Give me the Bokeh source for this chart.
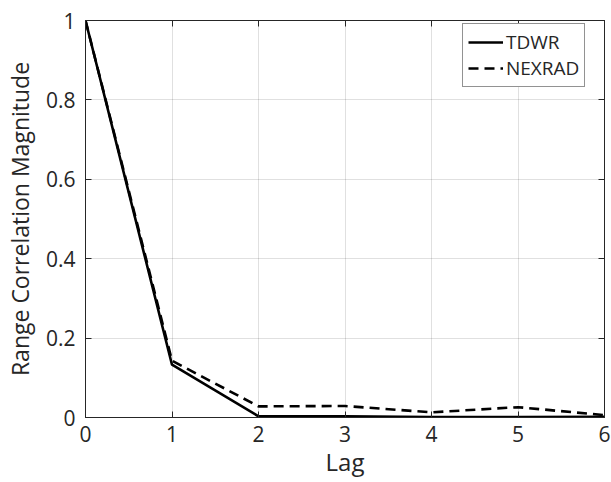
from bokeh.plotting import figure
from bokeh.models import FixedTicker, LinearAxis, Legend, LegendItem, Range1d, CustomJSTickFormatter
from bokeh.embed import file_html
from bokeh.resources import INLINE

lags = [0, 1, 2, 3, 4, 5, 6]
tdwr = [1.0, 0.133, 0.003, 0.003, 0.001, 0.001, 0.002]
nexrad = [1.0, 0.143, 0.028, 0.029, 0.013, 0.026, 0.006]
x_ticks = [0, 1, 2, 3, 4, 5, 6]
y_ticks = [0, 0.2, 0.4, 0.6, 0.8, 1]
y_tick_labels = ["0", "0.2", "0.4", "0.6", "0.8", "1"]

FONT = "Open Sans"
TXT = "#262626"

p = figure(width=611, height=482, output_backend="svg", toolbar_location=None,
           x_range=Range1d(0, 6), y_range=Range1d(0, 1),
           min_border_left=85, min_border_right=7, min_border_top=20, min_border_bottom=65)
p.outline_line_color = "#262626"
p.outline_line_width = 1
p.background_fill_color = "white"
p.border_fill_color = "white"

p.xgrid.grid_line_color = "#000000"
p.xgrid.grid_line_alpha = 0.12
p.ygrid.grid_line_color = "#000000"
p.ygrid.grid_line_alpha = 0.12

xa = p.xaxis[0]
ya = p.yaxis[0]
for ax in (xa, ya):
    ax.major_tick_in = 6
    ax.major_tick_out = 0
    ax.minor_tick_line_color = None
    ax.axis_line_color = "#262626"
    ax.major_tick_line_color = "#262626"
    ax.major_label_text_font = FONT
    ax.major_label_text_font_size = "21px"
    ax.major_label_text_color = TXT
    ax.axis_label_text_font = FONT
    ax.axis_label_text_font_style = "normal"
    ax.axis_label_text_color = TXT

xa.ticker = FixedTicker(ticks=x_ticks)
ya.ticker = FixedTicker(ticks=y_ticks)
ya.major_label_overrides = {t: s for t, s in zip(y_ticks, y_tick_labels)}
xa.axis_label = "Lag"
ya.axis_label = "Range Correlation Magnitude"
xa.axis_label_text_font_size = "24px"
ya.axis_label_text_font_size = "23px"
xa.major_label_standoff = 8
ya.major_label_standoff = 10
xa.axis_label_standoff = 0
ya.axis_label_standoff = 7

blank = CustomJSTickFormatter(code="return ''")
top = LinearAxis(ticker=FixedTicker(ticks=x_ticks), formatter=blank,
                 major_tick_in=6, major_tick_out=0, minor_tick_line_color=None,
                 axis_line_color="#262626", major_tick_line_color="#262626",
                 major_label_standoff=0)
right = LinearAxis(ticker=FixedTicker(ticks=y_ticks), formatter=blank,
                   major_tick_in=6, major_tick_out=0, minor_tick_line_color=None,
                   axis_line_color="#262626", major_tick_line_color="#262626",
                   major_label_standoff=0)
p.add_layout(top, "above")
p.add_layout(right, "right")

r1 = p.line(lags, tdwr, line_color="black", line_width=2.6)
r2 = p.line(lags, nexrad, line_color="black", line_width=2.6, line_dash="10 6")

legend = Legend(items=[LegendItem(label="TDWR", renderers=[r1]),
                       LegendItem(label="NEXRAD", renderers=[r2])],
                location=(377, 330))
legend.border_line_color = "#262626"
legend.border_line_width = 1
legend.label_text_font = FONT
legend.label_text_font_size = "19px"
legend.label_text_color = TXT
legend.glyph_width = 35
legend.glyph_height = 22
legend.label_standoff = 3
legend.spacing = 0
legend.padding = 5
legend.margin = 0
legend.label_height = 22
legend.background_fill_alpha = 1
p.add_layout(legend, "center")

open("out.html", "w").write(file_html(p, INLINE))
